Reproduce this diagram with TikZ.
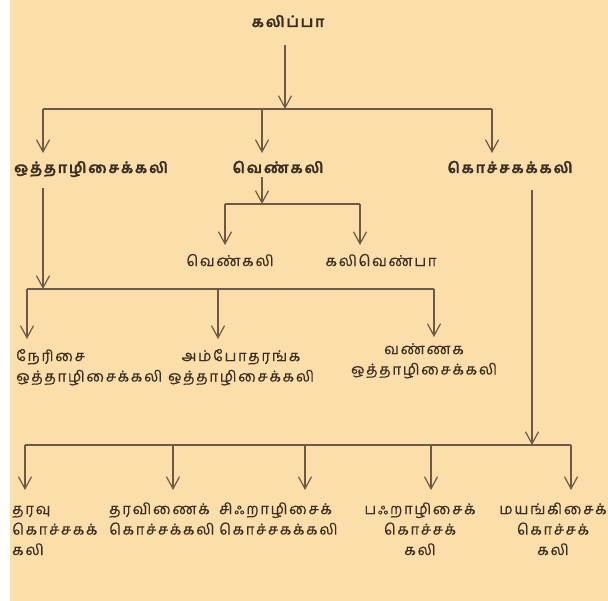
\documentclass[tikz,border=0pt]{standalone}
\usepackage{fontspec}
\newfontfamily\tamil[Script=Tamil,LetterSpace=12,BoldFeatures={FakeBold=1.2}]{Hind Madurai}
\newfontfamily\tamilr[Script=Tamil,LetterSpace=11,FakeBold=0.25]{Hind Madurai}
\usetikzlibrary{arrows.meta}
\definecolor{peach}{RGB}{252,222,170}
\definecolor{ink}{RGB}{58,46,34}
\definecolor{wire}{RGB}{110,90,68}
\tikzset{
  lbl/.style={font=\tamilr\fontsize{15}{20.5}\selectfont, text=ink, inner sep=0pt},
  head/.style={lbl, font=\tamil\bfseries\fontsize{15}{20.5}\selectfont},
  wirebar/.style={draw=wire, line width=1.2bp},
  arr/.style={wirebar, -{Straight Barb[length=12bp,width=13bp]}},
}
\begin{document}
\begin{tikzpicture}[x=1bp,y=-1bp]
  \useasboundingbox (0,0) rectangle (608,601);
  \fill[peach] (10,0) rectangle (608,601);
  % top
  \node[head, anchor=base] (kalippa) at (288,27) {கலிப்பா};
  \coordinate (kalippa-out) at (285,45);
  \coordinate (bar1w) at (43,109);
  \coordinate (bar1e) at (492,109);
  \draw[wirebar] (bar1w) -- (bar1e);
  \draw[arr] (kalippa-out) -- (kalippa-out |- bar1w);
  \coordinate (otta-in) at (43,153);
  \coordinate (venk-in) at (262,153);
  \coordinate (koc-in) at (492,153);
  \foreach \c in {otta-in,venk-in,koc-in}
    \draw[arr] (\c |- bar1w) -- (\c);
  \node[head, anchor=base] (otta) at (91,173) {ஒத்தாழிசைக்கலி};
  \node[head, anchor=base] (venk) at (278,173) {வெண்கலி};
  \node[head, anchor=base] (koc) at (510,173) {கொச்சகக்கலி};
  % venkali
  \coordinate (venk-out) at (262,177);
  \coordinate (bar2w) at (225,204);
  \coordinate (bar2e) at (360,204);
  \draw[arr] (venk-out) -- (venk-out |- bar2w);
  \draw[wirebar] (bar2w) -- (bar2e);
  \coordinate (venA-in) at (225,245);
  \coordinate (venB-in) at (360,245);
  \foreach \c in {venA-in,venB-in}
    \draw[arr] (\c |- bar2w) -- (\c);
  \node[lbl, anchor=base] (venA) at (230,266) {வெண்கலி};
  \node[lbl, anchor=base] (venB) at (381,266) {கலிவெண்பா};
  % ottalisaikkali
  \coordinate (otta-out) at (43,188);
  \coordinate (bar3w) at (27,289);
  \coordinate (bar3e) at (434,289);
  \draw[arr] (otta-out) -- (otta-out |- bar3w);
  \draw[wirebar] (bar3w) -- (bar3e);
  \coordinate (neri-in) at (27,339);
  \coordinate (ampo-in) at (218,339);
  \coordinate (vanna-in) at (434,337);
  \foreach \c in {neri-in,ampo-in,vanna-in}
    \draw[arr] (\c |- bar3w) -- (\c);
  \node[lbl, anchor=base west, align=left] (neri) at (16,381.5) {நேரிசை\\ஒத்தாழிசைக்கலி};
  \node[lbl, anchor=base, align=center] (ampo) at (241,381.5) {அம்போதரங்க\\ஒத்தாழிசைக்கலி};
  \node[lbl, anchor=base, align=center] (vanna) at (424,374.5) {வண்ணக\\ஒத்தாழிசைக்கலி};
  % kochchakakkali
  \coordinate (koc-out) at (532,190);
  \coordinate (bar4w) at (25,445);
  \coordinate (bar4e) at (571,445);
  \draw[arr] (koc-out) -- (koc-out |- bar4w);
  \draw[wirebar] (bar4w) -- (bar4e);
  \coordinate (tarv-in) at (25,490);
  \coordinate (tarvi-in) at (173,490);
  \coordinate (sif-in) at (305,490);
  \coordinate (paf-in) at (431,490);
  \coordinate (may-in) at (571,490);
  \foreach \c in {tarv-in,tarvi-in,sif-in,paf-in,may-in}
    \draw[arr] (\c |- bar4w) -- (\c);
  \node[lbl, anchor=base west, align=left] (tarv) at (12,555) {தரவு\\கொச்சகக்\\கலி};
  \node[lbl, anchor=base west, align=left] (tarvi) at (109,534.5) {தரவிணைக்\\கொச்சக்கலி};
  \node[lbl, anchor=base west, align=left] (sif) at (219,534.5) {சிஃறாழிசைக்\\கொச்சகக்கலி};
  \node[lbl, anchor=base, align=center] (paf) at (420,555) {பஃறாழிசைக்\\கொச்சக்\\கலி};
  \node[lbl, anchor=base, align=center] (may) at (553,555) {மயங்கிசைக்\\கொச்சக்\\கலி};
\end{tikzpicture}
\end{document}
